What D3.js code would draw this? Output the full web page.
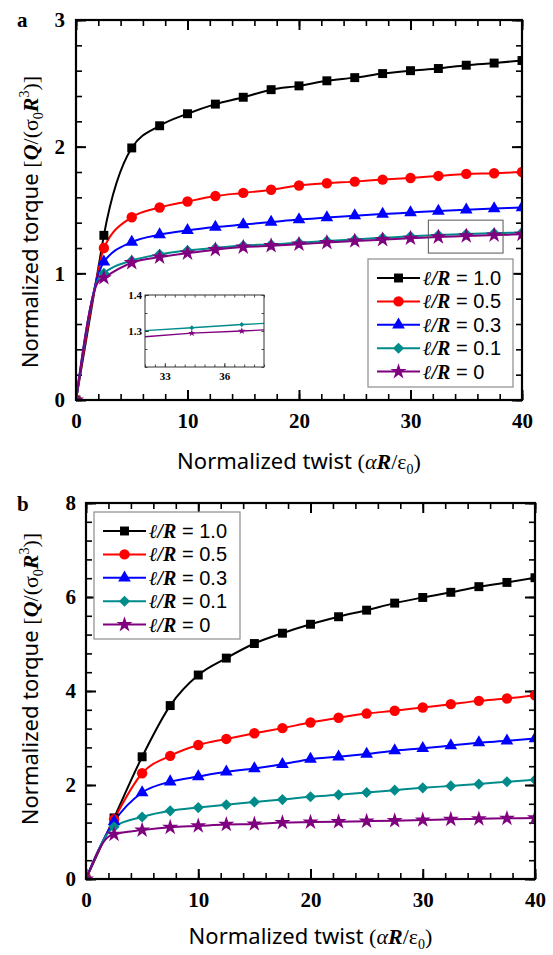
<!DOCTYPE html>
<html>
<head>
<meta charset="utf-8">
<script src="https://cdn.jsdelivr.net/npm/d3@7"></script>
<style>
body { margin: 0; background: #fff; }
svg { display: block; }
</style>
</head>
<body>
<div id="wrapper"></div>
<script>
// Data: normalized twist vs normalized torque
const twist = [0, 2, 2.5, 5, 7.5, 10, 12.5, 15, 17.5, 20, 22.5, 25, 27.5, 30, 32.5, 35, 37.5, 40]

// panel a
const torqueA_10 = [0, 1.04, 1.30, 1.99, 2.165, 2.26, 2.336, 2.39, 2.45, 2.48, 2.52, 2.545, 2.577, 2.60, 2.617, 2.643, 2.66, 2.68]
const torqueA_05 = [0, 1.02, 1.20, 1.443, 1.52, 1.567, 1.61, 1.635, 1.66, 1.693, 1.711, 1.724, 1.74, 1.753, 1.769, 1.785, 1.79, 1.80]
const torqueA_03 = [0, 0.99, 1.09, 1.247, 1.305, 1.339, 1.365, 1.385, 1.405, 1.425, 1.44, 1.455, 1.468, 1.48, 1.492, 1.502, 1.511, 1.52]
const torqueA_01 = [0, 0.955, 1.0, 1.10, 1.15, 1.18, 1.20, 1.22, 1.228, 1.242, 1.256, 1.268, 1.28, 1.292, 1.302, 1.31, 1.317, 1.323]
const torqueA_00 = [0, 0.935, 0.965, 1.084, 1.128, 1.16, 1.187, 1.207, 1.218, 1.23, 1.243, 1.255, 1.266, 1.277, 1.287, 1.295, 1.302, 1.308]

// panel b
const torqueB_10 = [0, 1.04, 1.30, 2.60, 3.69, 4.34, 4.70, 5.01, 5.23, 5.42, 5.58, 5.72, 5.87, 5.99, 6.10, 6.22, 6.31, 6.41]
const torqueB_05 = [0, 1.04, 1.27, 2.25, 2.62, 2.85, 2.98, 3.10, 3.21, 3.33, 3.43, 3.52, 3.58, 3.65, 3.72, 3.79, 3.84, 3.91]
const torqueB_03 = [0, 1.03, 1.22, 1.84, 2.07, 2.18, 2.28, 2.35, 2.44, 2.55, 2.60, 2.66, 2.73, 2.78, 2.84, 2.90, 2.94, 2.99]
const torqueB_01 = [0, 0.99, 1.11, 1.32, 1.45, 1.52, 1.58, 1.64, 1.69, 1.75, 1.79, 1.84, 1.89, 1.94, 1.98, 2.02, 2.07, 2.11]
const torqueB_00 = [0, 0.90, 0.95, 1.04, 1.10, 1.13, 1.16, 1.17, 1.20, 1.21, 1.22, 1.23, 1.24, 1.255, 1.27, 1.28, 1.29, 1.30]

// inset of panel a (l/R = 0.1 and 0)
const insetTwist = [32, 34.36, 36.88, 38]
const insetTeal = [1.301, 1.309, 1.318, 1.321]
const insetPurple = [1.284, 1.294, 1.300, 1.303]
const zoomBoxX = [31.6, 38.3]
const zoomBoxY = [1.16, 1.42]

const legendValues = ["1.0", "0.5", "0.3", "0.1", "0"]
const seriesColors = ["#000000", "#ff0000", "#0000ff", "#008b8b", "#800080"]
const xTicks = [0, 10, 20, 30, 40]
const yTicksA = [0, 1, 2, 3]
const yTicksB = [0, 2, 4, 6, 8]
const insetXTicks = [33, 36]
const insetYTicks = [1.3, 1.4]

const serif = "'Liberation Serif', 'Times New Roman', serif"
const sans = "'Noto Sans', 'DejaVu Sans', sans-serif"
const legSans = "'Liberation Sans', Arial, sans-serif"

const wrapper = d3.select("#wrapper")
    .append("svg")
        .attr("width", 553)
        .attr("height", 955)

const symbolFor = i => {
    if (i === 0) return d3.symbol(d3.symbolSquare, 80)
    if (i === 1) return d3.symbol(d3.symbolCircle, 85)
    if (i === 2) return d3.symbol(d3.symbolTriangle, 70)
    if (i === 3) return d3.symbol(d3.symbolSquare, 62)
    return d3.symbol(d3.symbolStar, 80)
}
const markerRotate = i => i === 3 ? " rotate(45)" : ""

function drawMarker(g, i, x, y, scale = 1) {
    g.append("path")
        .attr("d", symbolFor(i)())
        .attr("transform", `translate(${x},${y})${markerRotate(i)} scale(${scale})`)
        .attr("fill", seriesColors[i])
}

function styleAxis(g, width) {
    g.select(".domain").remove()
    g.selectAll(".tick line").attr("stroke", "#000").attr("stroke-width", width)
    g.selectAll("text")
        .attr("fill", "#000")
        .style("font-family", serif)
        .style("font-weight", "bold")
        .style("font-size", "21px")
}

function drawPanel(p) {
    const x = d3.scaleLinear().domain([0, 40]).range([p.left, p.right])
    const y = d3.scaleLinear().domain([0, p.yMax]).range([p.bottom, p.top])
    const g = wrapper.append("g")

    const clipId = "clip" + p.name
    wrapper.append("clipPath").attr("id", clipId)
        .append("rect")
            .attr("x", p.left).attr("y", p.top)
            .attr("width", p.right - p.left).attr("height", p.bottom - p.top)

    // minor ticks
    const xMinor = d3.range(0, 41, 2)
    const yMinor = d3.range(0, p.yMax + 0.001, p.yMinorStep)
    g.append("g").attr("transform", `translate(0,${p.bottom})`)
        .call(d3.axisBottom(x).tickValues(xMinor).tickSize(-6).tickFormat(""))
        .call(s => styleAxis(s, 1.6))
    g.append("g").attr("transform", `translate(0,${p.top})`)
        .call(d3.axisTop(x).tickValues(xMinor).tickSize(-6).tickFormat(""))
        .call(s => styleAxis(s, 1.6))
    g.append("g").attr("transform", `translate(${p.left},0)`)
        .call(d3.axisLeft(y).tickValues(yMinor).tickSize(-6).tickFormat(""))
        .call(s => styleAxis(s, 1.6))
    g.append("g").attr("transform", `translate(${p.right},0)`)
        .call(d3.axisRight(y).tickValues(yMinor).tickSize(-6).tickFormat(""))
        .call(s => styleAxis(s, 1.6))

    // major ticks
    g.append("g").attr("transform", `translate(0,${p.bottom})`)
        .call(d3.axisBottom(x).tickValues(xTicks).tickSizeInner(-10).tickSizeOuter(0).tickPadding(13).tickFormat(d3.format("d")))
        .call(s => styleAxis(s, 2))
    g.append("g").attr("transform", `translate(0,${p.top})`)
        .call(d3.axisTop(x).tickValues(xTicks).tickSize(-10).tickFormat(""))
        .call(s => styleAxis(s, 2))
    g.append("g").attr("transform", `translate(${p.left},0)`)
        .call(d3.axisLeft(y).tickValues(p.yTicks).tickSizeInner(-10).tickSizeOuter(0).tickPadding(p.yPad).tickFormat(d3.format("d")))
        .call(s => styleAxis(s, 2))
    g.append("g").attr("transform", `translate(${p.right},0)`)
        .call(d3.axisRight(y).tickValues(p.yTicks).tickSize(-10).tickFormat(""))
        .call(s => styleAxis(s, 2))

    // curves
    const plot = g.append("g").attr("clip-path", `url(#${clipId})`)
    const lineGenerator = d3.line()
        .x((d, j) => x(twist[j]))
        .y(d => y(d))
        .curve(d3.curveMonotoneX)

    p.series.forEach((vals, i) => {
        plot.append("path")
            .attr("d", lineGenerator(vals))
            .attr("fill", "none")
            .attr("stroke", seriesColors[i])
            .attr("stroke-width", 2)
    })
    p.series.forEach((vals, i) => {
        vals.forEach((v, j) => {
            if (twist[j] % 2.5 !== 0) return
            drawMarker(plot, i, x(twist[j]), y(v))
        })
    })

    // frame
    g.append("rect")
        .attr("x", p.left).attr("y", p.top)
        .attr("width", p.right - p.left).attr("height", p.bottom - p.top)
        .attr("fill", "none").attr("stroke", "#000").attr("stroke-width", 2.2)

    // panel letter
    g.append("text")
        .attr("x", p.letterX).attr("y", p.letterY)
        .style("font-family", serif).style("font-weight", "bold").style("font-size", "21px")
        .text(p.name)

    // legend
    const leg = g.append("g")
    leg.append("rect")
        .attr("x", p.legend.x).attr("y", p.legend.y)
        .attr("width", p.legend.w).attr("height", p.legend.h)
        .attr("fill", "#fff").attr("stroke", "#8c8c8c").attr("stroke-width", 1.2)
    legendValues.forEach((lab, i) => {
        const ly = p.legend.y + 19 + i * 23.4
        const lx = p.legend.x + 9
        leg.append("line")
            .attr("x1", lx).attr("x2", lx + 43)
            .attr("y1", ly).attr("y2", ly)
            .attr("stroke", seriesColors[i]).attr("stroke-width", 2)
        drawMarker(leg, i, lx + 21.5, ly)
        const t = leg.append("text")
            .attr("x", lx + 46).attr("y", ly + 7)
            .style("font-size", "20px")
        t.append("tspan").style("font-family", serif).style("font-style", "italic").style("font-weight", "bold").text("\u2113/R")
        t.append("tspan").style("font-family", legSans).text(" = " + lab)
    })

    // x axis title
    const xt = g.append("text")
        .attr("x", (p.left + p.right) / 2).attr("y", p.xTitleY)
        .attr("text-anchor", "middle")
        .style("font-size", "22px")
    xt.append("tspan").style("font-family", sans).text("Normalized twist ")
    xt.append("tspan").style("font-family", serif).text("(")
    xt.append("tspan").style("font-family", serif).style("font-style", "italic").text("\u03b1")
    xt.append("tspan").style("font-family", serif).style("font-style", "italic").style("font-weight", "bold").text("R")
    xt.append("tspan").style("font-family", serif).text("/\u03b5")
    xt.append("tspan").style("font-family", serif).style("font-size", "14px").attr("dy", 5).text("0")
    xt.append("tspan").style("font-family", serif).attr("dy", -5).text(")")

    // y axis title
    const yt = g.append("text")
        .attr("transform", `translate(${p.yTitleX},${p.yTitleY}) rotate(-90)`)
        .attr("text-anchor", "middle")
        .style("font-size", "22px")
    yt.append("tspan").style("font-family", sans).text("Normalized torque ")
    yt.append("tspan").style("font-family", serif).text("[")
    yt.append("tspan").style("font-family", serif).style("font-style", "italic").style("font-weight", "bold").text("Q")
    yt.append("tspan").style("font-family", serif).text("/(\u03c3")
    yt.append("tspan").style("font-family", serif).style("font-size", "14px").attr("dy", 5).text("0")
    yt.append("tspan").style("font-family", serif).style("font-style", "italic").style("font-weight", "bold").attr("dy", -5).text("R")
    yt.append("tspan").style("font-family", serif).style("font-size", "14px").attr("dy", -9).text("3")
    yt.append("tspan").style("font-family", serif).attr("dy", 9).text(")]")

    return { x, y, g }
}

const panelA = drawPanel({
    name: "a", left: 76, right: 522, top: 20, bottom: 400,
    yMax: 3, yMinorStep: 0.2, yTicks: yTicksA, yPad: 11,
    series: [torqueA_10, torqueA_05, torqueA_03, torqueA_01, torqueA_00],
    legend: { x: 368, y: 259, w: 145, h: 128 },
    letterX: 17, letterY: 27, xTitleY: 469, yTitleX: 38, yTitleY: 222
})

drawPanel({
    name: "b", left: 86, right: 535, top: 503, bottom: 879,
    yMax: 8, yMinorStep: 0.4, yTicks: yTicksB, yPad: 10,
    series: [torqueB_10, torqueB_05, torqueB_03, torqueB_01, torqueB_00],
    legend: { x: 94, y: 512, w: 146, h: 127 },
    letterX: 17, letterY: 511, xTitleY: 944, yTitleX: 38, yTitleY: 679
})

// zoom box in panel a
panelA.g.append("rect")
    .attr("x", panelA.x(zoomBoxX[0])).attr("y", panelA.y(zoomBoxY[1]))
    .attr("width", panelA.x(zoomBoxX[1]) - panelA.x(zoomBoxX[0]))
    .attr("height", panelA.y(zoomBoxY[0]) - panelA.y(zoomBoxY[1]))
    .attr("fill", "none").attr("stroke", "#555").attr("stroke-width", 1)

// inset
const ix = d3.scaleLinear().domain([32, 38]).range([145, 264])
const iy = d3.scaleLinear().domain([1.2, 1.4]).range([367, 295])
const inset = wrapper.append("g")
const styleInset = s => {
    s.select(".domain").remove()
    s.selectAll(".tick line").attr("stroke", "#222").attr("stroke-width", 0.8)
    s.selectAll("text").attr("fill", "#000")
        .style("font-family", serif).style("font-weight", "bold").style("font-size", "11px")
}
inset.append("g").attr("transform", "translate(0,367)")
    .call(d3.axisBottom(ix).tickValues(d3.range(32, 38.01, 0.5)).tickSize(-2.5).tickFormat(""))
    .call(styleInset)
inset.append("g").attr("transform", "translate(0,295)")
    .call(d3.axisTop(ix).tickValues(d3.range(32, 38.01, 0.5)).tickSize(-2.5).tickFormat(""))
    .call(styleInset)
inset.append("g").attr("transform", "translate(0,367)")
    .call(d3.axisBottom(ix).tickValues(insetXTicks).tickSizeInner(-4).tickSizeOuter(0).tickPadding(5).tickFormat(d3.format("d")))
    .call(styleInset)
inset.append("g").attr("transform", "translate(145,0)")
    .call(d3.axisLeft(iy).tickValues(d3.range(1.2, 1.401, 0.05)).tickSize(-2.5).tickFormat(""))
    .call(styleInset)
inset.append("g").attr("transform", "translate(264,0)")
    .call(d3.axisRight(iy).tickValues(d3.range(1.2, 1.401, 0.05)).tickSize(-2.5).tickFormat(""))
    .call(styleInset)
inset.append("g").attr("transform", "translate(145,0)")
    .call(d3.axisLeft(iy).tickValues(insetYTicks).tickSizeInner(-4).tickSizeOuter(0).tickPadding(3).tickFormat(d3.format(".1f")))
    .call(styleInset)

const insetLine = d3.line().x((d, j) => ix(insetTwist[j])).y(d => iy(d))
;[[insetTeal, 3], [insetPurple, 4]].forEach(([vals, i]) => {
    inset.append("path")
        .attr("d", insetLine(vals))
        .attr("fill", "none").attr("stroke", seriesColors[i]).attr("stroke-width", 1.3)
    vals.forEach((v, j) => {
        if (j === 0 || j === vals.length - 1) return
        drawMarker(inset, i, ix(insetTwist[j]), iy(v), 0.45)
    })
})
inset.append("rect")
    .attr("x", 145).attr("y", 295).attr("width", 119).attr("height", 72)
    .attr("fill", "none").attr("stroke", "#333").attr("stroke-width", 1)
</script>
</body>
</html>
